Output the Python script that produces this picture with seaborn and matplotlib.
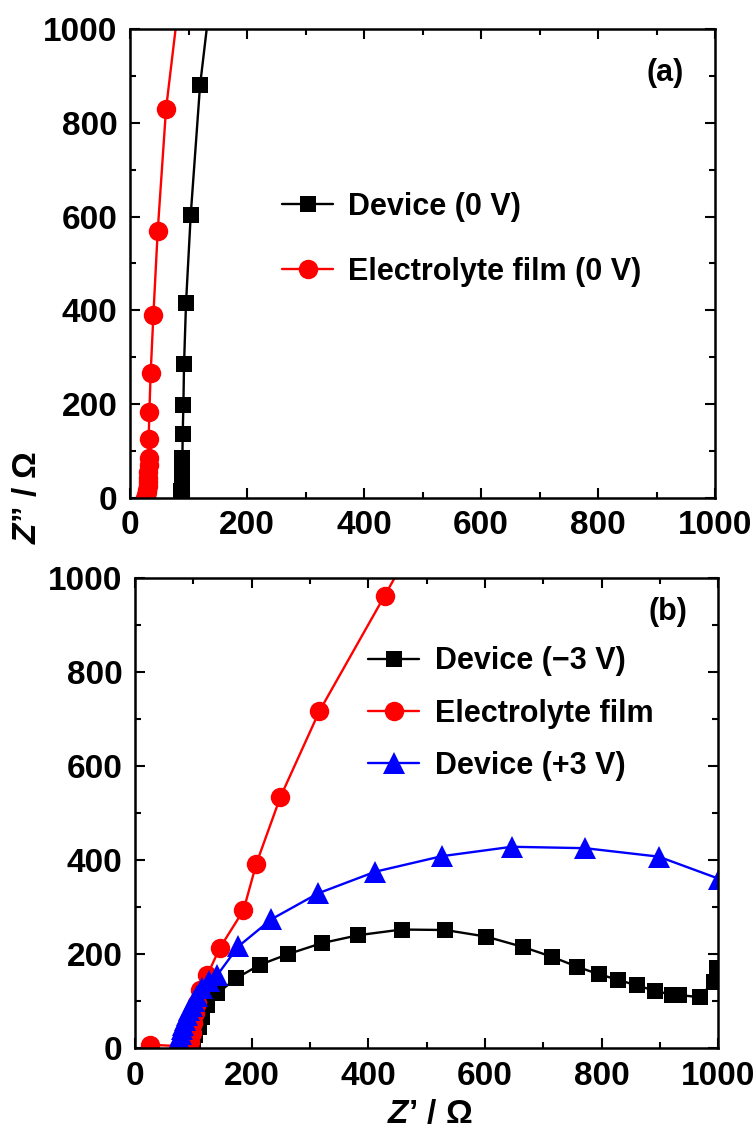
"""Nyquist plots of device and electrolyte film, panels (a) and (b)."""

import matplotlib

matplotlib.use("Agg")
import matplotlib.pyplot as plt
import seaborn as sns
from matplotlib.ticker import MultipleLocator

# panel (a): 0 V
dev0_x = [87, 87, 87, 87.5, 88, 88, 88, 88.5, 89, 89, 89.5, 90, 91.2, 92.3, 95.7, 103.7, 119.7, 150]
dev0_y = [0, 4, 9, 15, 22, 30, 39, 49, 60, 72, 86, 136, 198, 285, 416, 603, 880, 1200]
ele0_x = [26, 27, 28, 29, 29.5, 30, 30.5, 31, 31.5, 31.8, 31.9, 31.9, 33.0, 35.3, 39.9, 47.3, 61.5, 97]
ele0_y = [0, 3, 7, 12, 18, 25, 33, 42, 55, 70, 85, 125, 183, 267, 390, 569, 829, 1200]

# panel (b): -3 V, film, +3 V
devm3_x = [99, 100, 103, 109, 114, 124, 141, 173, 214, 263, 320, 383, 457, 532, 602, 665,
           715, 758, 795, 829, 860, 892, 920, 932, 968, 992, 998, 1015]
devm3_y = [3, 10, 28, 45, 67, 91, 116, 148, 177, 200, 223, 240, 252, 251, 237, 215,
           194, 173, 157, 145, 133, 122, 113, 113, 108, 141, 170, 230]
film_x = [25, 93, 94, 97, 100, 103, 106, 111.5, 124, 145, 186, 208, 249, 316, 428, 536]
film_y = [7, 3, 13, 31, 53, 74, 95, 123, 155, 212, 293, 392, 533, 716, 962, 1200]
devp3_x = [72, 74, 76, 78, 80, 83, 86, 89, 93, 97, 101, 106, 114, 127, 141, 177, 234,
           314, 412, 526, 646, 772, 898, 1001]
devp3_y = [0, 10, 20, 30, 40, 50, 60, 70, 80, 90, 100, 110, 127, 142, 155, 216, 274,
           329, 375, 408, 428, 425, 407, 360]

sns.set_theme(style="ticks")
plt.rcParams["font.family"] = ["Liberation Sans", "DejaVu Sans"]
plt.rcParams["font.weight"] = "bold"
plt.rcParams["mathtext.fontset"] = "custom"
plt.rcParams["mathtext.rm"] = "Liberation Sans:bold"
plt.rcParams["mathtext.bfit"] = "Liberation Sans:italic:bold"
for key in ["text.color", "axes.labelcolor", "xtick.color", "ytick.color", "axes.edgecolor"]:
    plt.rcParams[key] = "black"


def _series(ax, x, y, color, marker, size, label):
    sns.lineplot(
        x=x, y=y, ax=ax, sort=False, estimator=None, color=color, marker=marker,
        markersize=size, markeredgecolor=color, markeredgewidth=0, linewidth=1.7, label=label,
    )


def _style(ax):
    ax.set_xlim(0, 1000)
    ax.set_ylim(0, 1000)
    for axis in (ax.xaxis, ax.yaxis):
        axis.set_major_locator(MultipleLocator(200))
        axis.set_minor_locator(MultipleLocator(100))
    ax.tick_params(which="both", direction="in", top=True, right=True, width=1.5,
                   labelsize=24, pad=9)
    ax.tick_params(which="major", length=7)
    ax.tick_params(which="minor", length=4)
    for spine in ax.spines.values():
        spine.set_linewidth(1.8)
    ax.set_xlabel("")
    ax.set_ylabel("")


def _legend(ax, top, left, spacing):
    ax.legend(loc="upper left", bbox_to_anchor=(left, top), frameon=False,
              prop={"size": 22, "weight": "bold"}, handlelength=1.67, handletextpad=0.5,
              labelspacing=spacing, borderpad=0, borderaxespad=0)


fig = plt.figure(figsize=(7.56, 11.33), dpi=100)
ax_a = fig.add_axes([0.172, 0.5605, 0.774, 0.414])
ax_b = fig.add_axes([0.1786, 0.075, 0.7714, 0.415])

_series(ax_a, dev0_x, dev0_y, "black", "s", 12, "Device (0 V)")
_series(ax_a, ele0_x, ele0_y, "red", "o", 14, "Electrolyte film (0 V)")
_style(ax_a)
_legend(ax_a, 0.653, 0.26, 1.15)
ax_a.text(0.914, 0.906, "(a)", transform=ax_a.transAxes, ha="center", va="center",
          fontsize=22, fontweight="bold")

_series(ax_b, devm3_x, devm3_y, "black", "s", 12, "Device (\u22123 V)")
_series(ax_b, film_x, film_y, "red", "o", 14, "Electrolyte film")
_series(ax_b, devp3_x, devp3_y, "blue", "^", 16, "Device (+3 V)")
_style(ax_b)
_legend(ax_b, 0.854, 0.40, 0.73)
ax_b.text(0.914, 0.928, "(b)", transform=ax_b.transAxes, ha="center", va="center",
          fontsize=22, fontweight="bold")

fig.text(0.037, 0.561, "$\\mathbfit{Z}$\u201d / \u03a9", rotation=90, ha="center",
         va="center", fontsize=24, fontweight="bold")
fig.text(0.568, 0.016, "$\\mathbfit{Z}$\u2019 / \u03a9", ha="center", va="center",
         fontsize=24, fontweight="bold")

plt.savefig("out.png", dpi=100)
plt.close()
